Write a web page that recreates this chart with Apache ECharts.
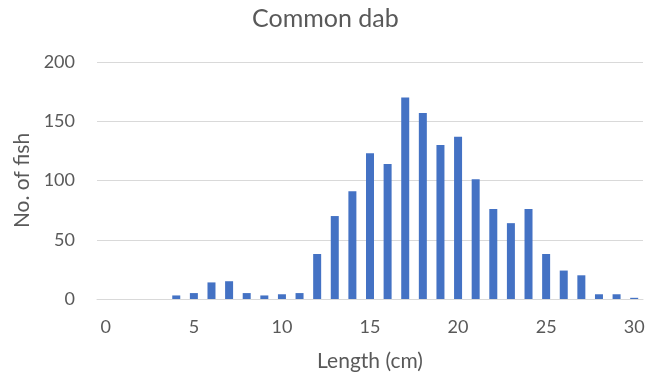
<!DOCTYPE html>
<html lang="en">
<head>
  <meta charset="UTF-8">
  <title>Common dab</title>
  <script src="https://cdn.jsdelivr.net/npm/echarts@6.0.0/dist/echarts.min.js"></script>
  <style>
    html, body { margin: 0; padding: 0; background: #fff; }
    #chart { width: 664px; height: 379px; }
  </style>
</head>
<body>
  <div id="chart"></div>
  <script>
    // length classes (cm) and fish counts
    const lengths = [];
    for (let i = 0; i <= 30; i++) lengths.push(String(i));
    const counts = [0, 0, 0, 0, 3, 5, 14, 15, 5, 3, 4, 5, 38, 70, 91, 123,
      114, 170, 157, 130, 137, 101, 76, 64, 76, 38, 24, 20, 4, 4, 1];
    const yTicks = [0, 50, 100, 150, 200];

    const font = 'Lato, "Open Sans", sans-serif';
    const grey = '#595959';

    const myChart = echarts.init(document.getElementById('chart'), null, { renderer: 'canvas' });

    const option = {
      animation: false,
      title: {
        text: 'Common dab',
        left: 252,
        top: 6,
        padding: 0,
        textStyle: { fontFamily: font, fontSize: 25, fontWeight: 'normal', color: grey }
      },
      grid: { left: 97, right: 21, top: 62, bottom: 80 },
      xAxis: {
        type: 'category',
        data: lengths,
        name: 'Length (cm)',
        nameLocation: 'middle',
        nameGap: 52,
        nameTextStyle: { fontFamily: font, fontSize: 21, color: grey },
        axisLine: { lineStyle: { color: '#d9d9d9', width: 1 } },
        axisTick: { show: false },
        axisLabel: {
          interval: 4,
          margin: 19,
          fontFamily: font, fontSize: 18, color: grey
        }
      },
      yAxis: {
        type: 'value',
        min: yTicks[0],
        max: yTicks[yTicks.length - 1],
        interval: 50,
        name: 'No. of fish',
        nameLocation: 'middle',
        nameGap: 63,
        nameTextStyle: { fontFamily: font, fontSize: 21, color: grey },
        axisLine: { show: false },
        axisTick: { show: false },
        axisLabel: { margin: 22, fontFamily: font, fontSize: 18, color: grey },
        splitLine: { lineStyle: { color: '#d9d9d9', width: 1 } }
      },
      series: [{
        type: 'bar',
        data: counts,
        barWidth: 8,
        itemStyle: { color: '#4472c4' }
      }]
    };
    myChart.setOption(option);
  </script>
</body>
</html>
